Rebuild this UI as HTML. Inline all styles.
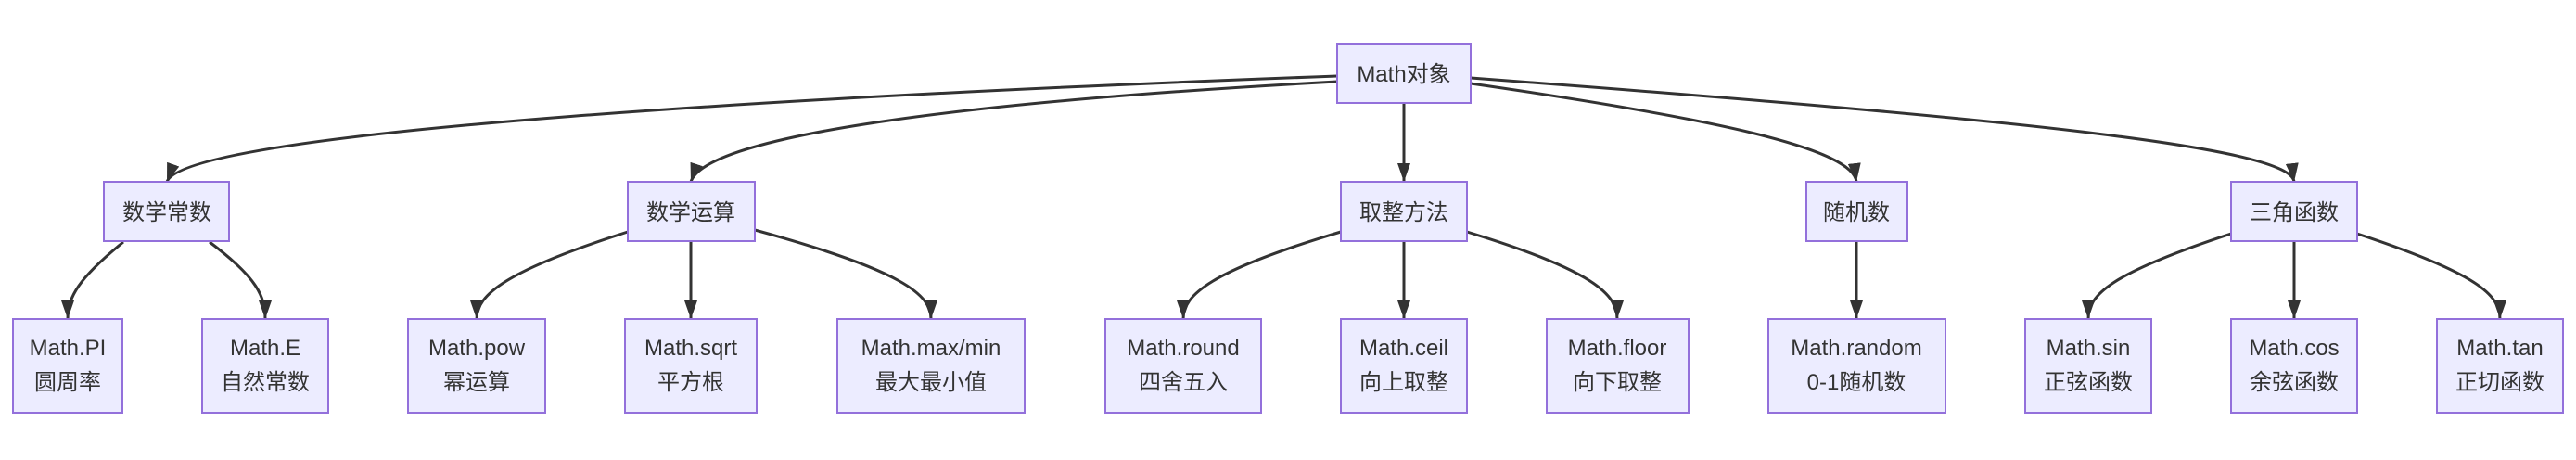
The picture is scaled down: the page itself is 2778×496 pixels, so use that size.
<!DOCTYPE html>
<html><head><meta charset="utf-8"><style>
html,body{margin:0;padding:0;background:#fff;}
svg{display:block}
text{font-family:"Liberation Sans","Noto Sans CJK SC",sans-serif;font-size:24px;fill:#333;text-anchor:middle;}
rect{fill:#ECECFF;stroke:#9370DB;stroke-width:2;}
path.e{fill:none;stroke:#333;stroke-width:3;}
</style></head><body>
<svg width="2778" height="496" viewBox="0 0 2778 496" xmlns="http://www.w3.org/2000/svg">
<defs><marker id="a" markerUnits="userSpaceOnUse" markerWidth="14" markerHeight="20" refX="7" refY="20" orient="auto-start-reverse" viewBox="0 0 14 20"><path d="M0,0 L14,0 L7,20 z" fill="#333" transform="rotate(0)"/></marker>
<marker id="b" markerUnits="userSpaceOnUse" markerWidth="20" markerHeight="14" refX="20" refY="7" orient="auto" viewBox="0 0 20 14"><path d="M0,0 L20,7 L0,14 z" fill="#333"/></marker></defs>
<g>
<path class="e" marker-end="url(#b)" d="M1442,82 C900,102 200,140 180,196"/>
<path class="e" marker-end="url(#b)" d="M1442,88 C1000,112 760,150 745,196"/>
<path class="e" marker-end="url(#b)" d="M1514,111 L1514,196"/>
<path class="e" marker-end="url(#b)" d="M1586,90 C1850,128 1998,160 2002,196"/>
<path class="e" marker-end="url(#b)" d="M1586,84 C2200,130 2470,160 2474,196"/>
<path class="e" marker-end="url(#b)" d="M133,261 C85,300 73,320 73,344"/>
<path class="e" marker-end="url(#b)" d="M226,261 C278,300 286,320 286,344"/>
<path class="e" marker-end="url(#b)" d="M677,250 C545,292 514,318 514,344"/>
<path class="e" marker-end="url(#b)" d="M745,260 L745,344"/>
<path class="e" marker-end="url(#b)" d="M814,248 C975,292 1004,318 1004,344"/>
<path class="e" marker-end="url(#b)" d="M1446,250 C1305,292 1276,318 1276,344"/>
<path class="e" marker-end="url(#b)" d="M1514,260 L1514,344"/>
<path class="e" marker-end="url(#b)" d="M1582,250 C1720,292 1744,318 1744,344"/>
<path class="e" marker-end="url(#b)" d="M2002,260 L2002,344"/>
<path class="e" marker-end="url(#b)" d="M2406,252 C2275,295 2252,318 2252,344"/>
<path class="e" marker-end="url(#b)" d="M2474,260 L2474,344"/>
<path class="e" marker-end="url(#b)" d="M2542,252 C2672,295 2696,318 2696,344"/>
</g>
<g>
<rect x="1442" y="47" width="144" height="64"/><text x="1514" y="88">Math对象</text>
<rect x="112" y="196" width="135" height="64"/><text x="180" y="237">数学常数</text>
<rect x="677" y="196" width="137" height="64"/><text x="745" y="237">数学运算</text>
<rect x="1446" y="196" width="136" height="64"/><text x="1514" y="237">取整方法</text>
<rect x="1948" y="196" width="109" height="64"/><text x="2002" y="237">随机数</text>
<rect x="2406" y="196" width="136" height="64"/><text x="2474" y="237">三角函数</text>

<rect x="14" y="344" width="118" height="101"/><text x="73" y="383">Math.PI</text><text x="73" y="420">圆周率</text>
<rect x="218" y="344" width="136" height="101"/><text x="286" y="383">Math.E</text><text x="286" y="420">自然常数</text>
<rect x="440" y="344" width="148" height="101"/><text x="514" y="383">Math.pow</text><text x="514" y="420">幂运算</text>
<rect x="674" y="344" width="142" height="101"/><text x="745" y="383">Math.sqrt</text><text x="745" y="420">平方根</text>
<rect x="903" y="344" width="202" height="101"/><text x="1004" y="383">Math.max/min</text><text x="1004" y="420">最大最小值</text>
<rect x="1192" y="344" width="168" height="101"/><text x="1276" y="383">Math.round</text><text x="1276" y="420">四舍五入</text>
<rect x="1446" y="344" width="136" height="101"/><text x="1514" y="383">Math.ceil</text><text x="1514" y="420">向上取整</text>
<rect x="1668" y="344" width="153" height="101"/><text x="1744" y="383">Math.floor</text><text x="1744" y="420">向下取整</text>
<rect x="1907" y="344" width="191" height="101"/><text x="2002" y="383">Math.random</text><text x="2002" y="420">0-1随机数</text>
<rect x="2184" y="344" width="136" height="101"/><text x="2252" y="383">Math.sin</text><text x="2252" y="420">正弦函数</text>
<rect x="2406" y="344" width="136" height="101"/><text x="2474" y="383">Math.cos</text><text x="2474" y="420">余弦函数</text>
<rect x="2628" y="344" width="136" height="101"/><text x="2696" y="383">Math.tan</text><text x="2696" y="420">正切函数</text>
</g>
</svg>
</body></html>
